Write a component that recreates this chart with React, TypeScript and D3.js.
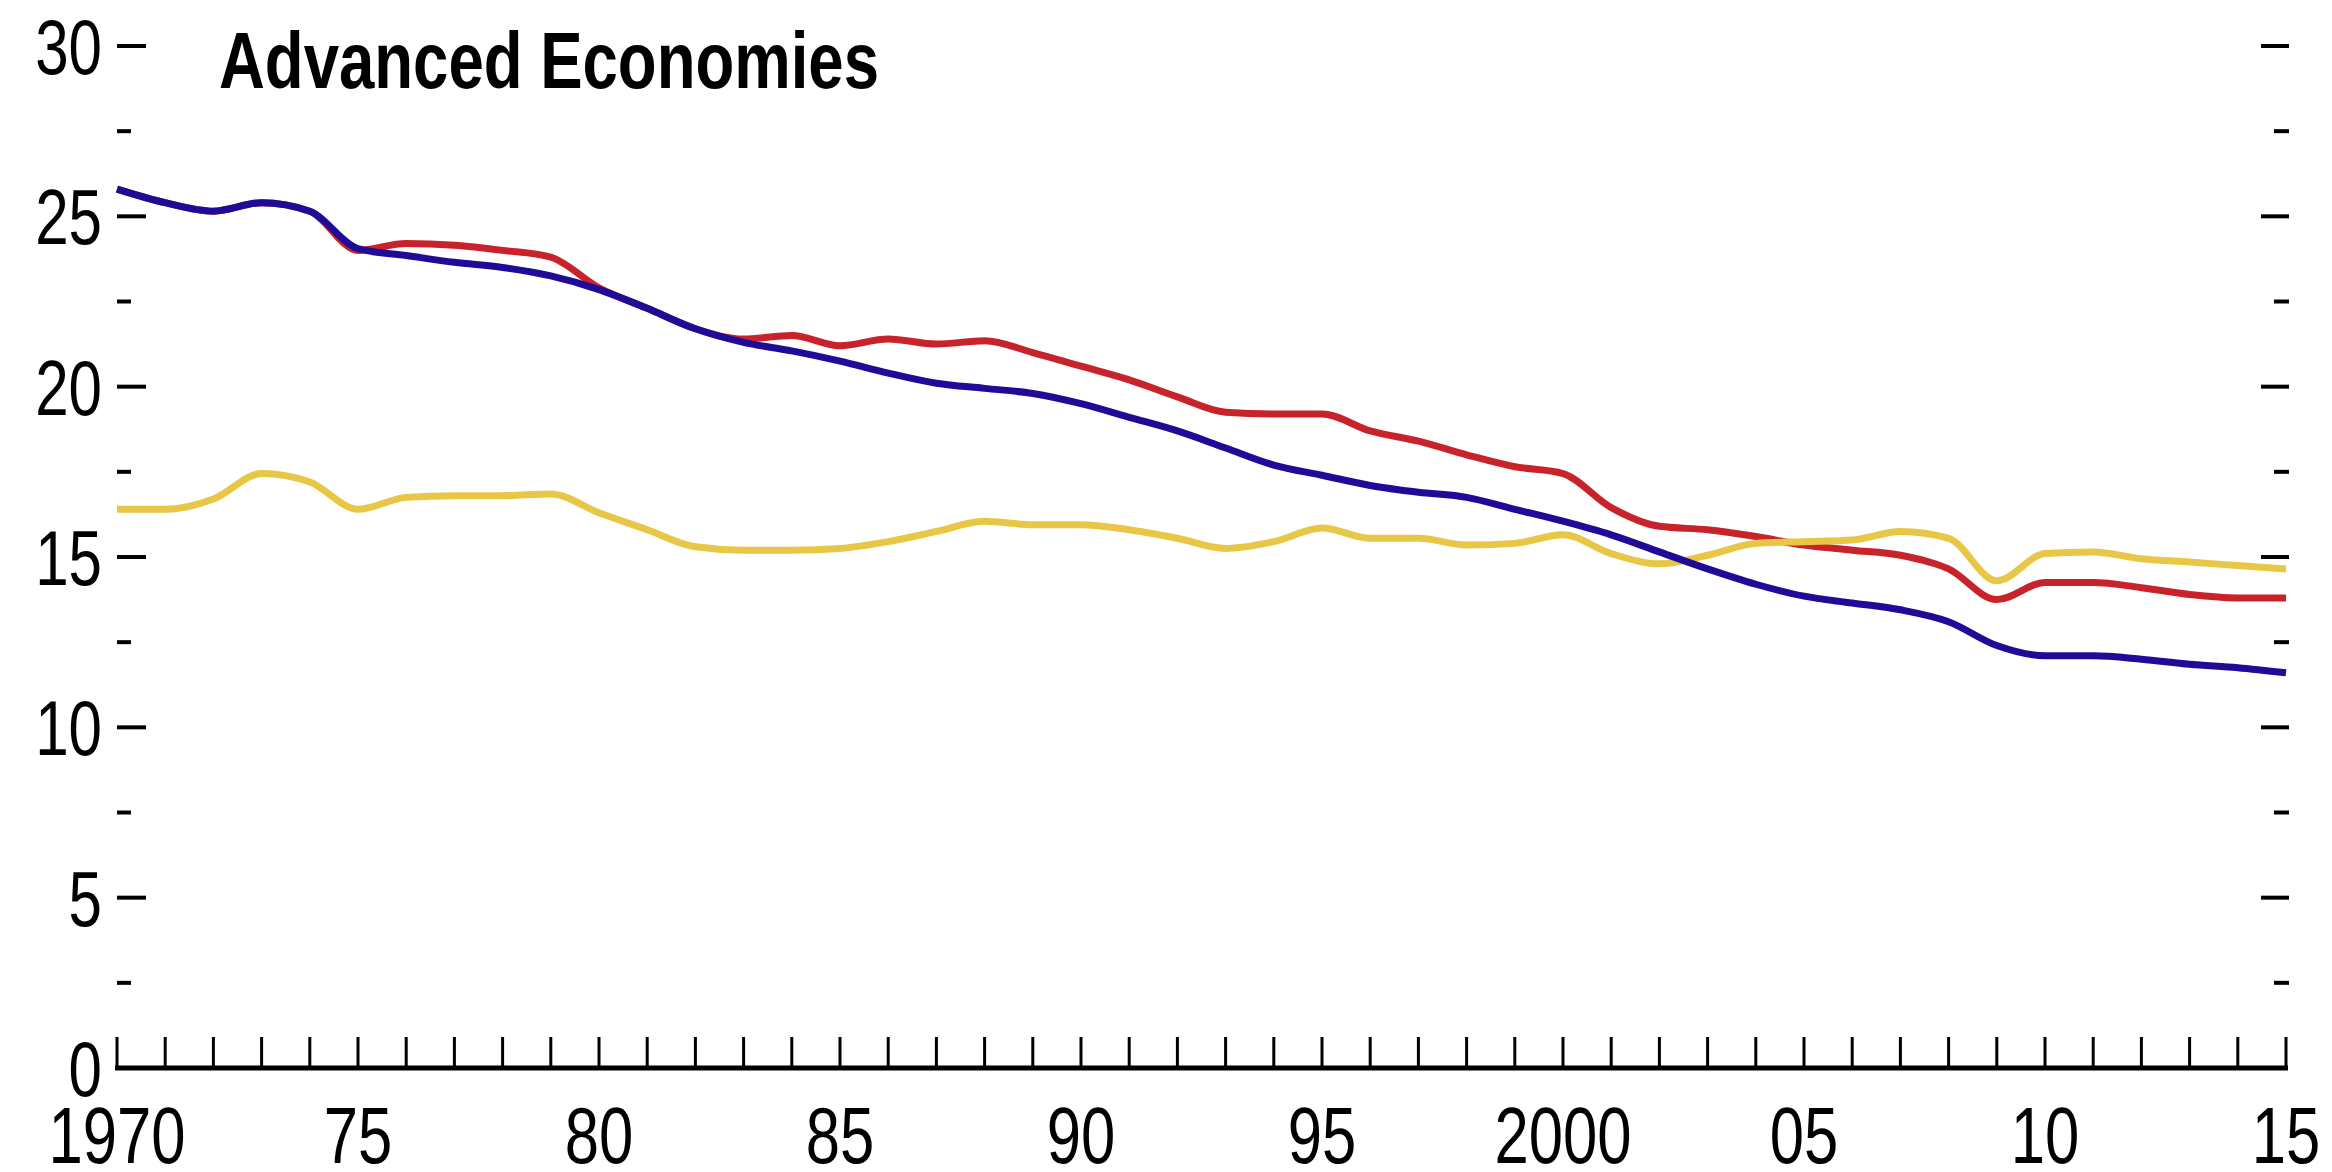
import React from "react";
import * as d3 from "d3";

const W = 2332;
const H = 1172;

const years = [
  1970, 1971, 1972, 1973, 1974, 1975, 1976, 1977, 1978, 1979,
  1980, 1981, 1982, 1983, 1984, 1985, 1986, 1987, 1988, 1989,
  1990, 1991, 1992, 1993, 1994, 1995, 1996, 1997, 1998, 1999,
  2000, 2001, 2002, 2003, 2004, 2005, 2006, 2007, 2008, 2009,
  2010, 2011, 2012, 2013, 2014, 2015,
];

const blueSeries = [
  25.8, 25.4, 25.15, 25.4, 25.15, 24.05, 23.85, 23.65, 23.5, 23.25,
  22.85, 22.3, 21.7, 21.3, 21.05, 20.75, 20.4, 20.1, 19.95, 19.8,
  19.5, 19.1, 18.7, 18.2, 17.7, 17.4, 17.1, 16.9, 16.75, 16.4,
  16.05, 15.65, 15.15, 14.65, 14.2, 13.85, 13.65, 13.45, 13.1, 12.4,
  12.1, 12.1, 12.0, 11.85, 11.75, 11.6,
];

const redSeries = [
  25.8, 25.4, 25.15, 25.4, 25.15, 24.0, 24.2, 24.15, 24.0, 23.8,
  22.9, 22.3, 21.7, 21.4, 21.5, 21.2, 21.4, 21.25, 21.35, 21.0,
  20.6, 20.2, 19.7, 19.25, 19.2, 19.2, 18.7, 18.4, 18.0, 17.65,
  17.45, 16.45, 15.9, 15.8, 15.6, 15.35, 15.2, 15.05, 14.65, 13.75,
  14.25, 14.25, 14.1, 13.9, 13.8, 13.8,
];

const yellowSeries = [
  16.4, 16.4, 16.7, 17.45, 17.2, 16.4, 16.75, 16.8, 16.8, 16.85,
  16.3, 15.8, 15.3, 15.2, 15.2, 15.25, 15.45, 15.75, 16.05, 15.95,
  15.95, 15.8, 15.55, 15.25, 15.45, 15.85, 15.55, 15.55, 15.35, 15.4,
  15.65, 15.1, 14.8, 15.05, 15.4, 15.45, 15.5, 15.75, 15.55, 14.3,
  15.1, 15.15, 14.95, 14.85, 14.75, 14.65,
];

const yMajorTicks = [0, 5, 10, 15, 20, 25, 30];
const yMinorTicks = [2.5, 7.5, 12.5, 17.5, 22.5, 27.5];
const xLabelYears = [1970, 1975, 1980, 1985, 1990, 1995, 2000, 2005, 2010, 2015];
const xLabelTexts = ["1970", "75", "80", "85", "90", "95", "2000", "05", "10", "15"];
const title = "Advanced Economies";

const seriesList = [
  { name: "red", values: redSeries, color: "#C8232B" },
  { name: "yellow", values: yellowSeries, color: "#E8C746" },
  { name: "blue", values: blueSeries, color: "#1E0C98" },
];

export default function App() {
  const x = d3.scaleLinear().domain([1970, 2015]).range([117, 2286]);
  const y = d3.scaleLinear().domain([0, 30]).range([1068, 46]);

  const line = (vals: number[]) =>
    d3
      .line<number>()
      .x((_, i) => x(years[i]))
      .y((v) => y(v))
      .curve(d3.curveMonotoneX)(vals) || "";

  const font = "'Liberation Sans', Arial, sans-serif";
  const digitScale = 0.77;

  return (
    <svg
      width={W}
      height={H}
      viewBox={`0 0 ${W} ${H}`}
      style={{ position: "absolute", left: 0, top: 0, background: "#fff" }}
    >
      <rect x={0} y={0} width={W} height={H} fill="#fff" />

      <text
        x={219}
        y={88}
        fontFamily={font}
        fontWeight="bold"
        fontSize={80}
        textLength={660}
        lengthAdjust="spacingAndGlyphs"
        fill="#000"
      >
        {title}
      </text>

      {yMajorTicks.filter((t) => t > 0).map((t) => (
        <g key={"ymaj" + t}>
          <line x1={117} x2={146} y1={y(t)} y2={y(t)} stroke="#000" strokeWidth={4} />
          <line x1={2261} x2={2289} y1={y(t)} y2={y(t)} stroke="#000" strokeWidth={4} />
        </g>
      ))}
      {yMinorTicks.map((t) => (
        <g key={"ymin" + t}>
          <line x1={117} x2={131} y1={y(t)} y2={y(t)} stroke="#000" strokeWidth={4} />
          <line x1={2274} x2={2289} y1={y(t)} y2={y(t)} stroke="#000" strokeWidth={4} />
        </g>
      ))}

      {yMajorTicks.map((t) => (
        <text
          key={"yl" + t}
          transform={`translate(102, ${y(t) + 28}) scale(${digitScale}, 1)`}
          textAnchor="end"
          fontFamily={font}
          fontSize={78}
          fill="#000"
        >
          {String(t)}
        </text>
      ))}

      {seriesList.map((s) => (
        <path
          key={s.name}
          d={line(s.values)}
          fill="none"
          stroke={s.color}
          strokeWidth={7}
          strokeLinejoin="round"
          strokeLinecap="butt"
        />
      ))}

      {years.map((yr) => (
        <line
          key={"xt" + yr}
          x1={x(yr)}
          x2={x(yr)}
          y1={1068}
          y2={1037}
          stroke="#000"
          strokeWidth={3}
        />
      ))}
      <line x1={115} x2={2288} y1={1068} y2={1068} stroke="#000" strokeWidth={5} />

      {xLabelYears.map((yr, i) => (
        <text
          key={"xl" + yr}
          transform={`translate(${x(yr)}, 1163) scale(${digitScale}, 1)`}
          textAnchor="middle"
          fontFamily={font}
          fontSize={80}
          fill="#000"
        >
          {xLabelTexts[i]}
        </text>
      ))}
    </svg>
  );
}
